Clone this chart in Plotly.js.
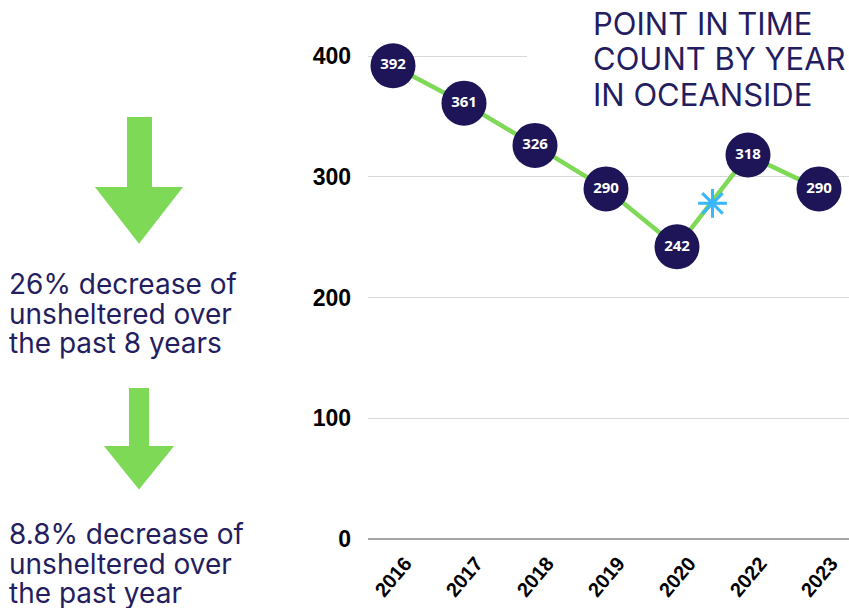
<!DOCTYPE html>
<html>
<head>
<meta charset="utf-8">
<script src="https://cdn.plot.ly/plotly-3.0.1.min.js"></script>
<style>html,body{margin:0;padding:0;background:#fff;}#chart{width:849px;height:608px;}</style>
</head>
<body>
<div id="chart"></div>
<script>
// ---- data ----
var years = ["2016", "2017", "2018", "2019", "2020", "2022", "2023"];
var counts = [392, 361, 326, 290, 242, 318, 290];
var yTickVals = [0, 100, 200, 300, 400];
var yTickText = ["0", "100", "200", "300", "400"];
var starX = [4.5];          // position between 2020 and 2022 (no 2021 count)
var starY = [278];
var titleLines = ["POINT IN TIME", "COUNT BY YEAR", "IN OCEANSIDE"];
var note1Lines = ["26% decrease of", "unsheltered over", "the past 8 years"];
var note2Lines = ["8.8% decrease of", "unsheltered over", "the past year"];

// ---- layout constants ----
var W = 849, H = 608;
var mL = 368, mR = 0, mT = 44, mB = 69;
var plotW = W - mL - mR, plotH = H - mT - mB;
function px(x) { return (x - mL) / plotW; }
function py(y) { return (H - mB - y) / plotH; }

var navy = "#1d1557";
var textNavy = "#241d5f";
var green = "#7ed957";

var idx = years.map(function (_, i) { return i; });

var traces = [
  {
    x: idx, y: counts, type: "scatter", mode: "lines+markers+text",
    line: { color: green, width: 4.5 },
    marker: { size: 45, color: navy, line: { width: 0 } },
    text: counts.map(String), textposition: "middle center",
    textfont: { family: "Open Sans, sans-serif", size: 15, color: "#ffffff", weight: 700 },
    hoverinfo: "skip", cliponaxis: false
  },
  {
    x: starX, y: starY, type: "scatter", mode: "markers",
    marker: { symbol: "asterisk-open", size: 24, color: "#38b6ff", line: { color: "#38b6ff", width: 3 } },
    hoverinfo: "skip", cliponaxis: false
  }
];

function arrowPath(sx0, sx1, top, headTop, hx0, hx1, tipX, tipY) {
  return "M" + px(sx0) + "," + py(top) +
    " L" + px(sx1) + "," + py(top) +
    " L" + px(sx1) + "," + py(headTop) +
    " L" + px(hx1) + "," + py(headTop) +
    " L" + px(tipX) + "," + py(tipY) +
    " L" + px(hx0) + "," + py(headTop) +
    " L" + px(sx0) + "," + py(headTop) + " Z";
}

var shapes = [
  { type: "path", xref: "paper", yref: "paper", layer: "above",
    path: arrowPath(128, 151, 118, 188, 97, 181, 139, 242),
    fillcolor: green, line: { color: green, width: 2 } },
  { type: "path", xref: "paper", yref: "paper", layer: "above",
    path: arrowPath(130, 148, 389, 447, 106, 172, 139, 488),
    fillcolor: green, line: { color: green, width: 2 } },
  // white backing behind the title, hiding the top gridline
  { type: "rect", xref: "paper", yref: "paper", layer: "above",
    x0: px(527), x1: px(849), y0: py(64), y1: py(48),
    fillcolor: "#ffffff", line: { width: 0 } }
];

var annotations = [];
titleLines.forEach(function (t, i) {
  annotations.push({
    text: t, xref: "paper", yref: "paper", x: px(591), y: py(24 + i * 35),
    xanchor: "left", yanchor: "middle", showarrow: false,
    font: { family: "Inter, sans-serif", size: 31, color: textNavy, weight: 400 }
  });
});
note1Lines.forEach(function (t, i) {
  annotations.push({
    text: t, xref: "paper", yref: "paper", x: px(7), y: py(284 + i * 29.5),
    xanchor: "left", yanchor: "middle", showarrow: false,
    font: { family: "Inter, sans-serif", size: 28, color: textNavy, weight: 400 }
  });
});
note2Lines.forEach(function (t, i) {
  annotations.push({
    text: t, xref: "paper", yref: "paper", x: px(7), y: py(534 + i * 29.5),
    xanchor: "left", yanchor: "middle", showarrow: false,
    font: { family: "Inter, sans-serif", size: 28, color: textNavy, weight: 400 }
  });
});
years.forEach(function (t, i) {
  annotations.push({
    text: t, xref: "x", yref: "y", x: i, y: 0,
    xanchor: "center", yanchor: "middle", yshift: -38, textangle: -50,
    showarrow: false,
    font: { family: "Liberation Sans, Arial, sans-serif", size: 20, color: "#000000", weight: 700 }
  });
});

var layout = {
  width: W, height: H,
  margin: { l: mL, r: mR, t: mT, b: mB, pad: 0 },
  paper_bgcolor: "#ffffff", plot_bgcolor: "#ffffff",
  showlegend: false, hovermode: false,
  xaxis: {
    range: [-25 / 71, 6 + 30 / 71], showgrid: false, zeroline: false,
    showticklabels: false, ticks: "", showline: false, fixedrange: true
  },
  yaxis: {
    range: [0, 410], tickvals: yTickVals, ticktext: yTickText,
    showgrid: true, gridcolor: "#d9d9d9", gridwidth: 1,
    zeroline: true, zerolinecolor: "#a6a6a6", zerolinewidth: 1.5,
    ticks: "", showline: false, ticklabelstandoff: 16,
    tickfont: { family: "Liberation Sans, Arial, sans-serif", size: 23, color: "#000000", weight: 700 },
    fixedrange: true
  },
  shapes: shapes,
  annotations: annotations
};

Plotly.newPlot("chart", traces, layout, { displayModeBar: false, staticPlot: true });
</script>
</body>
</html>
